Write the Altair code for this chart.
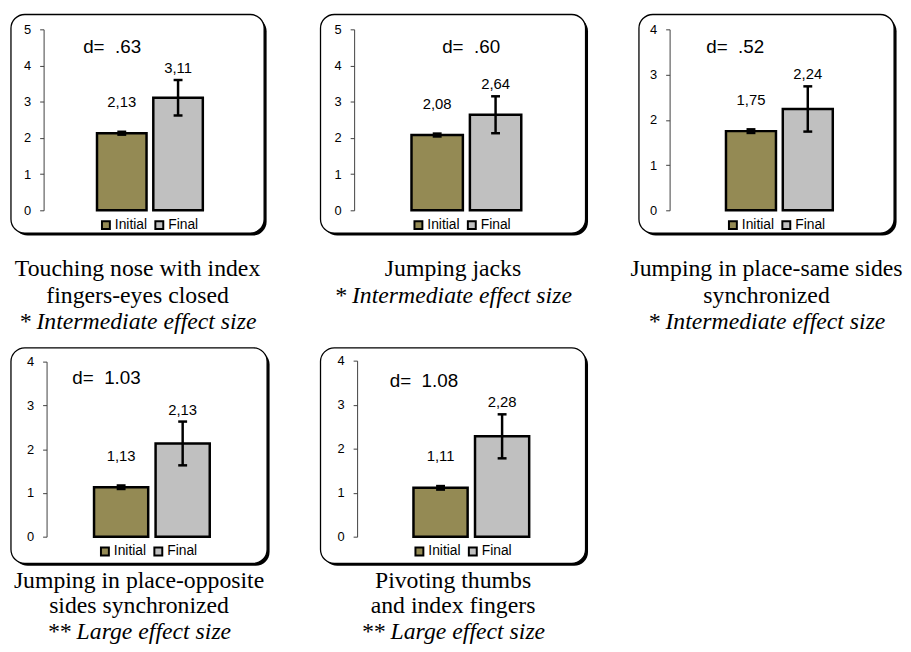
import altair as alt
import pandas as pd

# ---------------- data ----------------
series = ["Initial", "Final"]
title_lines = [
    ["Touching nose with index", "fingers-eyes closed"],
    ["Jumping jacks"],
    ["Jumping in place-same sides", "synchronized"],
    ["Jumping in place-opposite", "sides synchronized"],
    ["Pivoting thumbs", "and index fingers"],
]
effect_notes = [
    "* Intermediate effect size",
    "* Intermediate effect size",
    "* Intermediate effect size",
    "** Large effect size",
    "** Large effect size",
]
d_labels = ["d= .63", "d= .60", "d= .52", "d= 1.03", "d= 1.08"]
initial_means = [2.13, 2.08, 1.75, 1.13, 1.11]
final_means = [3.11, 2.64, 2.24, 2.13, 2.28]
initial_err = [0.04, 0.04, 0.04, 0.04, 0.04]
final_err = [0.49, 0.51, 0.50, 0.50, 0.50]
y_max = [5, 5, 4, 4, 4]

# ---------------- styles / layout ----------------
SANS = "Liberation Sans"
SERIF = "Liberation Serif"
OLIVE = "#948A54"
GRAY = "#C0C0C0"
NBSP = "\u00a0"

layout = [
    dict(w=256, h=221, axis_x=33, yr=[198, 15], band=[87, 194], d=(73, 39), leg=(89, 206), toff=22, lh=27, sp=3),
    dict(w=268, h=221, axis_x=34, yr=[198, 15], band=[92, 203], d=(123, 39), leg=(92, 206), toff=22, lh=27, sp=3),
    dict(w=258, h=221, axis_x=31, yr=[198, 15], band=[88, 196], d=(68, 39), leg=(88, 206), toff=22, lh=27, sp=3),
    dict(w=259, h=218, axis_x=36, yr=[191, 14], band=[84, 201], d=(62, 37), leg=(88, 199), toff=3, lh=26, sp=2),
    dict(w=268, h=218, axis_x=37, yr=[191, 13], band=[94, 211], d=(70, 40), leg=(93, 199), toff=3, lh=26, sp=2),
]


def panel(i):
    L = layout[i]
    w, h = L["w"], L["h"]
    df = pd.DataFrame({
        "series": series,
        "mean": [initial_means[i], final_means[i]],
        "err": [initial_err[i], final_err[i]],
    })
    df["lo"] = df["mean"] - df["err"]
    df["hi"] = df["mean"] + df["err"]
    df["label"] = df["mean"].map(lambda v: f"{v:.2f}".replace(".", ","))

    base = alt.Chart(df)
    xs = alt.Scale(domain=series, range=L["band"], paddingInner=0.12, paddingOuter=0)
    x = alt.X("series:N", scale=xs, axis=None)
    ys = alt.Scale(domain=[0, y_max[i]], range=L["yr"], nice=False, zero=True)
    yaxis = alt.Axis(
        values=list(range(y_max[i] + 1)), format="d", offset=-L["axis_x"], title=None,
        grid=False, tickSize=4, tickColor="#404040", tickWidth=1,
        domainColor="#404040", domainWidth=1, zindex=1,
        labelFont=SANS, labelFontSize=13, labelColor="black", labelPadding=9,
    )

    one = alt.Data(values=[{"k": 1}])
    shadow = alt.Chart(one).mark_rect(cornerRadius=14, fill="black").encode(
        x=alt.value(3), x2=alt.value(w + 2.5), y=alt.value(3), y2=alt.value(h + 2.5)
    )
    box = alt.Chart(one).mark_rect(cornerRadius=14, fill="white", stroke="black", strokeWidth=1.3).encode(
        x=alt.value(0), x2=alt.value(w), y=alt.value(0), y2=alt.value(h)
    )

    bars = base.mark_bar(stroke="black", strokeWidth=2.5).encode(
        x=x,
        y=alt.Y("mean:Q", scale=ys, axis=yaxis),
        color=alt.Color(
            "series:N",
            scale=alt.Scale(domain=series, range=[OLIVE, GRAY]),
            legend=alt.Legend(
                title=None, orient="none", legendX=L["leg"][0], legendY=L["leg"][1],
                direction="horizontal", symbolType="square", symbolSize=64,
                symbolStrokeColor="black", symbolStrokeWidth=2,
                labelFont=SANS, labelFontSize=14, labelColor="black",
                columnPadding=4, labelOffset=2,
            ),
        ),
    )
    whisk = base.mark_rule(color="black", strokeWidth=2.5).encode(
        x=x, y=alt.Y("lo:Q", scale=ys, axis=yaxis), y2="hi:Q"
    )
    cap_hi = base.mark_tick(color="black", thickness=2.5, size=9, opacity=1).encode(
        x=x, y=alt.Y("hi:Q", scale=ys, axis=yaxis)
    )
    cap_lo = base.mark_tick(color="black", thickness=2.5, size=9, opacity=1).encode(
        x=x, y=alt.Y("lo:Q", scale=ys, axis=yaxis)
    )
    lab_init = base.transform_filter(alt.datum.series == "Initial").mark_text(
        font=SANS, fontSize=15, color="black", baseline="alphabetic", dy=-25
    ).encode(x=x, y=alt.Y("hi:Q", scale=ys, axis=yaxis), text="label:N")
    lab_final = base.transform_filter(alt.datum.series == "Final").mark_text(
        font=SANS, fontSize=15, color="black", baseline="alphabetic", dy=-7
    ).encode(x=x, y=alt.Y("hi:Q", scale=ys, axis=yaxis), text="label:N")
    dstr = d_labels[i].replace(" ", NBSP * 2)
    dtext = alt.Chart(one).mark_text(
        font=SANS, fontSize=19, color="black", align="left", baseline="alphabetic"
    ).encode(x=alt.value(L["d"][0]), y=alt.value(L["d"][1]), text=alt.value(dstr))

    return alt.layer(shadow, box, bars, whisk, cap_hi, cap_lo, lab_init, lab_final, dtext).properties(
        width=w, height=h,
        title=alt.TitleParams(
            text=title_lines[i], subtitle=effect_notes[i], orient="bottom", anchor="middle",
            font=SERIF, fontSize=24, fontWeight="normal", color="black", lineHeight=L["lh"],
            subtitleFont=SERIF, subtitleFontSize=24, subtitleFontStyle="italic",
            subtitleColor="black", subtitleLineHeight=L["lh"], subtitlePadding=L["sp"],
            offset=L["toff"],
        ),
    )


chart = alt.concat(
    *[panel(i) for i in range(5)],
    columns=3, bounds="flush", align="none",
    spacing={"row": 116, "column": 54},
).resolve_scale(
    x="independent", y="independent", color="independent"
).resolve_legend(color="independent").configure(
    padding={"left": 2, "top": 2, "right": 0, "bottom": 0}
).configure_view(stroke=None)

chart.save("out.html", embed_options={"renderer": "svg", "actions": False})
